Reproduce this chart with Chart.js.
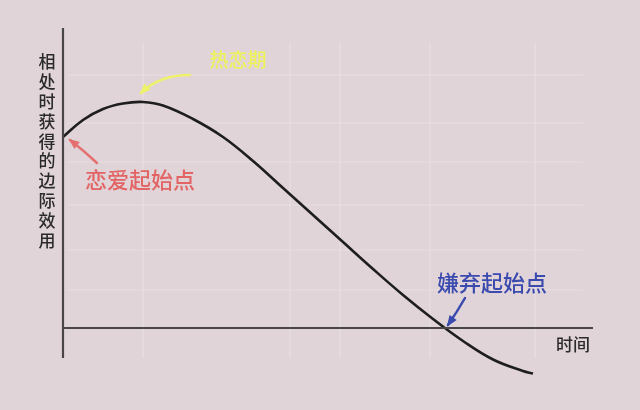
<!DOCTYPE html>
<html>
<head>
<meta charset="utf-8">
<script src="https://cdn.jsdelivr.net/npm/chart.js@4"></script>
<style>
html,body{margin:0;padding:0;background:#e0d4d8;}
#c{display:block;width:640px;height:410px;}
</style>
</head>
<body>
<canvas id="c" width="640" height="410"></canvas>
<script>
// ---- data ----
const timeX    = [0, 2, 4, 6, 8, 10, 13, 16, 19, 22, 25, 28, 31, 34, 37, 40, 43, 46, 47];
const utilityY = [19.1, 20.8, 21.9, 22.45, 22.6, 22.25, 20.9, 19.1, 16.7, 14.0, 11.3, 8.6, 5.9, 3.3, 0.9, -1.3, -3.15, -4.3, -4.55];
const yAxisTitle = '相处时获得的边际效用';
const xAxisTitle = '时间';
const noteLabels = ['恋爱起始点', '热恋期', '嫌弃起始点'];
const yAxisRange = [30, -3];
const xAxisRange = [0, 53];
const gridX = [8, 22.7, 27.7, 36.7, 47.2];
const gridY = [25.3, 20.5, 16.6, 12.3, 7.8, 3.8];

// ---- chart ----
const curve = timeX.map((x, i) => ({x: x, y: utilityY[i]}));
const yAxisLine = [{x: 0, y: yAxisRange[0]}, {x: 0, y: yAxisRange[1]}];
const xAxisLine = [{x: xAxisRange[0], y: 0}, {x: xAxisRange[1], y: 0}];

const notes = [
  {text: noteLabels[0], x: 7.7, y: 14.8, color: '#e26464', size: 22,
   arrow: {from: [3.4, 16.5], ctrl: [2.0, 17.8], to: [0.7, 18.8], color: '#e47070'}},
  {text: noteLabels[1], x: 17.5, y: 26.8, color: '#eef25a', size: 19,
   arrow: {from: [12.7, 25.3], ctrl: [9.6, 25.3], to: [7.8, 23.5], color: '#eef26a'}},
  {text: noteLabels[2], x: 42.9, y: 4.5, color: '#3a4aae', size: 22,
   arrow: {from: [40.2, 3.0], ctrl: [39.4, 1.6], to: [38.5, 0.3], color: '#3a4aae'}}
];

const FONT = '"Noto Sans CJK SC", "Noto Sans", sans-serif';

const bgPlugin = {
  id: 'bg',
  beforeDraw(chart) {
    const ctx = chart.ctx, xs = chart.scales.x, ys = chart.scales.y;
    ctx.save();
    ctx.fillStyle = '#e0d4d8';
    ctx.fillRect(0, 0, chart.width, chart.height);
    ctx.strokeStyle = 'rgba(238,230,234,0.55)';
    ctx.lineWidth = 1.2;
    const top = ys.getPixelForValue(28.5), bot = ys.getPixelForValue(-3);
    const l = xs.getPixelForValue(0.5), r = xs.getPixelForValue(52);
    gridX.forEach(v => {
      const p = xs.getPixelForValue(v);
      ctx.beginPath(); ctx.moveTo(p, top); ctx.lineTo(p, bot); ctx.stroke();
    });
    gridY.forEach(v => {
      const p = ys.getPixelForValue(v);
      ctx.beginPath(); ctx.moveTo(l, p); ctx.lineTo(r, p); ctx.stroke();
    });
    ctx.restore();
  }
};

function arrow(ctx, xs, ys, a) {
  const fx = xs.getPixelForValue(a.from[0]), fy = ys.getPixelForValue(a.from[1]);
  const cx = xs.getPixelForValue(a.ctrl[0]), cy = ys.getPixelForValue(a.ctrl[1]);
  const tx = xs.getPixelForValue(a.to[0]), ty = ys.getPixelForValue(a.to[1]);
  ctx.strokeStyle = a.color;
  ctx.fillStyle = a.color;
  ctx.lineWidth = 2.5;
  ctx.lineCap = 'round';
  ctx.beginPath();
  ctx.moveTo(fx, fy);
  ctx.quadraticCurveTo(cx, cy, tx, ty);
  ctx.stroke();
  const ang = Math.atan2(ty - cy, tx - cx);
  const len = 10, w = 0.45;
  ctx.beginPath();
  ctx.moveTo(tx + Math.cos(ang) * 2, ty + Math.sin(ang) * 2);
  ctx.lineTo(tx - Math.cos(ang - w) * len, ty - Math.sin(ang - w) * len);
  ctx.lineTo(tx - Math.cos(ang + w) * len, ty - Math.sin(ang + w) * len);
  ctx.closePath();
  ctx.fill();
}

const textPlugin = {
  id: 'texts',
  afterDatasetsDraw(chart) {
    const ctx = chart.ctx, xs = chart.scales.x, ys = chart.scales.y;
    ctx.save();
    ctx.textAlign = 'center';
    ctx.textBaseline = 'middle';
    // vertical y-axis title
    ctx.fillStyle = '#2a2a2a';
    ctx.font = '500 17px ' + FONT;
    const chars = Array.from(yAxisTitle);
    chars.forEach((ch, i) => {
      ctx.fillText(ch, xs.getPixelForValue(-1.6), ys.getPixelForValue(26.6 - i * 1.98));
    });
    // x-axis title
    ctx.fillText(xAxisTitle, xs.getPixelForValue(51), ys.getPixelForValue(-1.7));
    // notes
    notes.forEach(n => {
      arrow(ctx, xs, ys, n.arrow);
      ctx.fillStyle = n.color;
      ctx.font = '500 ' + n.size + 'px ' + FONT;
      ctx.fillText(n.text, xs.getPixelForValue(n.x), ys.getPixelForValue(n.y));
    });
    ctx.restore();
  }
};

new Chart(document.getElementById('c'), {
  type: 'scatter',
  data: {
    datasets: [
      {data: yAxisLine, showLine: true, borderColor: '#4a4548', borderWidth: 2.2, pointRadius: 0, tension: 0},
      {data: xAxisLine, showLine: true, borderColor: '#4a4548', borderWidth: 2.2, pointRadius: 0, tension: 0},
      {data: curve, showLine: true, borderColor: '#1e1e1e', borderWidth: 2.6, pointRadius: 0, tension: 0.4}
    ]
  },
  options: {
    responsive: false,
    animation: false,
    devicePixelRatio: 1,
    layout: {padding: 0},
    plugins: {legend: {display: false}, tooltip: {enabled: false}},
    scales: {
      x: {type: 'linear', display: false, min: -6.3, max: 57.7},
      y: {type: 'linear', display: false, min: -8.2, max: 32.8}
    }
  },
  plugins: [bgPlugin, textPlugin]
});
</script>
</body>
</html>
